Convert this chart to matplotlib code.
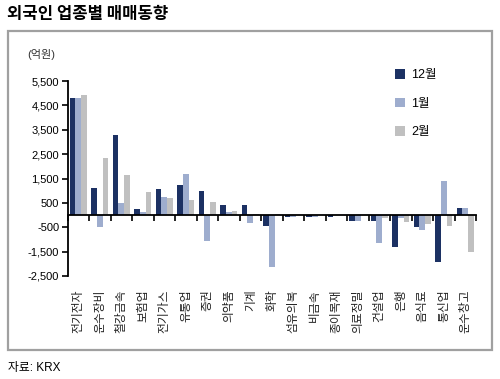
import matplotlib.pyplot as plt
import matplotlib.transforms as mtransforms
from matplotlib.patches import Rectangle, Patch
import numpy as np

plt.rcParams['font.family'] = ['Liberation Sans', 'Noto Sans CJK KR']

# 업종
cats = ['전기전자', '운수장비', '철강금속', '보험업', '전기가스', '유통업', '증권',
        '의약품', '기계', '화학', '섬유의복', '비금속', '종이목재', '의료정밀',
        '건설업', '은행', '음식료', '통신업', '운수창고']
# 순매수 (억원)
dec = [4800, 1110, 3290, 250, 1070, 1240, 990, 410, 410, -430, -100, -100, -100,
       -230, -230, -1300, -480, -1930, 290]
jan = [4800, -480, 480, 130, 740, 1690, -1060, 130, -330, -2130, -100, -100, 0,
       -230, -1130, -130, -610, 1400, 290]
feb = [4930, 2350, 1650, 950, 700, 620, 540, 170, 50, 50, 0, 0, 0, 0, -130, -270,
       -350, -430, -1520]
series = ['12월', '1월', '2월']
yticks = [-2500, -1500, -500, 500, 1500, 2500, 3500, 4500, 5500]

colors = ['#1c3163', '#9eadce', '#c0c0c0']

fig = plt.figure(figsize=(5, 3.79), dpi=100)
ax = fig.add_axes([0.135, 0.272, 0.817, 0.514])

x = np.arange(len(cats))
w = 0.265
for k, vals in enumerate([dec, jan, feb]):
    ax.bar(x + (k - 1) * w, vals, w, color=colors[k], linewidth=0)

ax.set_xlim(-0.5, len(cats) - 0.5)
ax.set_ylim(-2500, 5500)

ax.spines['top'].set_visible(False)
ax.spines['right'].set_visible(False)
ax.spines['bottom'].set_position(('data', 0))
ax.spines['left'].set_linewidth(1.3)
ax.spines['bottom'].set_linewidth(1.3)

ax.set_yticks(yticks)
ax.set_yticklabels([f'{v:,}' for v in yticks], fontsize=8)
ax.tick_params(axis='y', direction='out', length=4, width=1.2, pad=2)

ax.set_xticks(np.arange(-0.5, len(cats), 1.0))
ax.set_xticklabels([])
ax.tick_params(axis='x', direction='out', length=4, width=1.2)

# 업종 라벨 (세로)
trans = mtransforms.blended_transform_factory(ax.transData, ax.transAxes)
for i, c in enumerate(cats):
    ax.text(i, -0.07, c, transform=trans, rotation=90, ha='center', va='top',
            fontsize=8.5, family='Noto Sans CJK KR', color='#222222')

handles = [Patch(facecolor=colors[k], edgecolor='none') for k in range(3)]
ax.legend(handles, series, loc='upper left', bbox_to_anchor=(0.768, 0.847),
          bbox_transform=fig.transFigure, frameon=False, fontsize=9,
          handlelength=0.8, handleheight=0.8, handletextpad=0.5, labelspacing=1.3)

# 테두리
fig.patches.append(Rectangle((0.016, 0.076), 0.968, 0.842, transform=fig.transFigure,
                             fill=False, edgecolor='#a0a0a0', linewidth=1.6))

fig.text(0.014, 0.963, '외국인 업종별 매매동향', fontsize=12, fontweight='heavy',
         family='Noto Sans CJK KR', va='center', ha='left')
fig.text(0.055, 0.855, '(억원)', fontsize=8, va='center', ha='left', color='#333333')
fig.text(0.016, 0.03, '자료: KRX', fontsize=8.5, va='center', ha='left')

fig.savefig('out.png', dpi=100)
